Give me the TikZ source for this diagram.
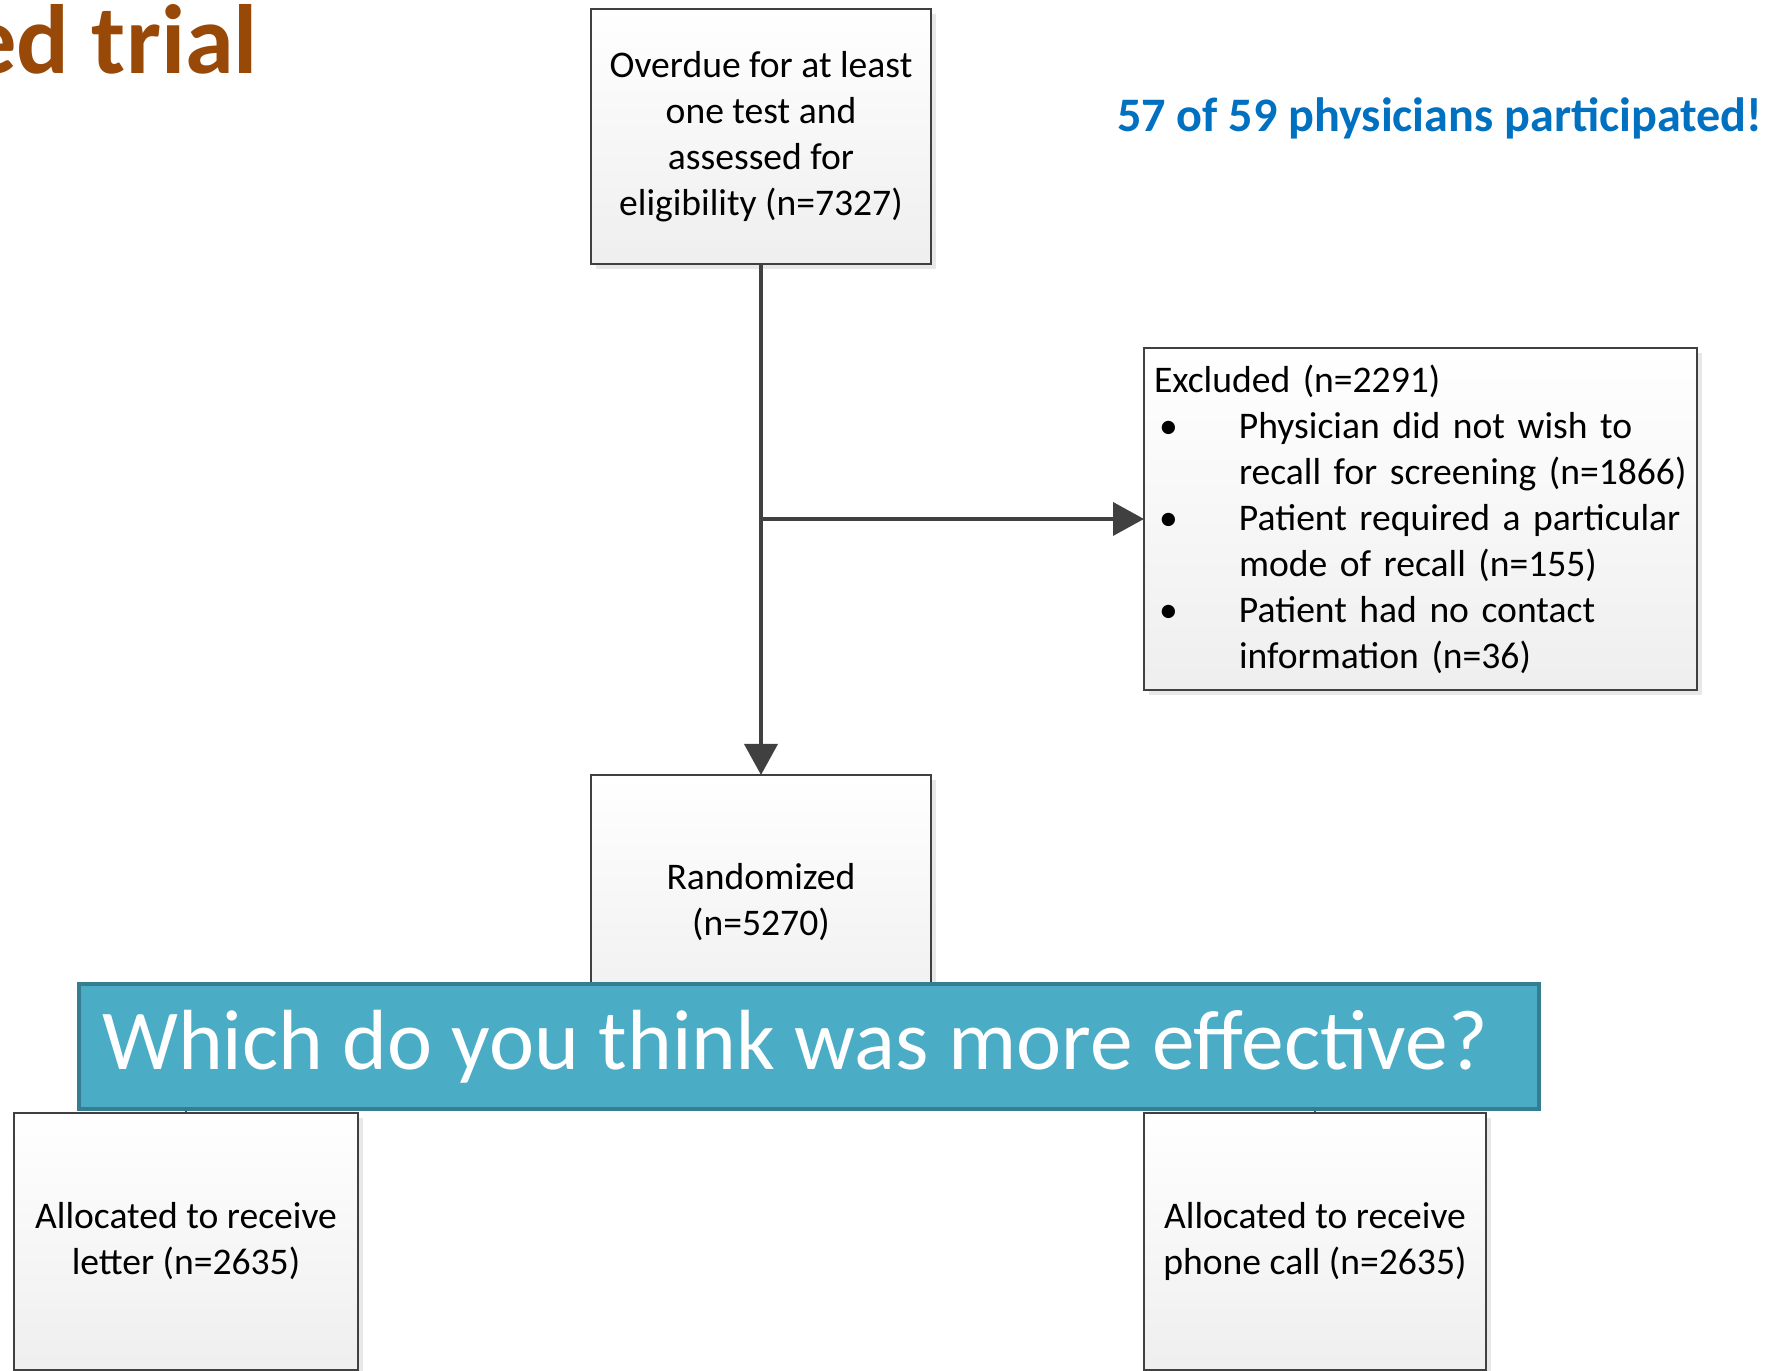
\documentclass[tikz,border=0pt]{standalone}
\usepackage{fontspec}
\setmainfont{Carlito}
\usetikzlibrary{calc}
\usetikzlibrary{positioning}
\usetikzlibrary{arrows.meta}
\usetikzlibrary{shadows}

\definecolor{titlebrown}{HTML}{984807}
\definecolor{noteblue}{HTML}{0070C0}
\definecolor{bannerfill}{HTML}{4BACC6}
\definecolor{bannerline}{HTML}{357D91}
\definecolor{linegray}{HTML}{404040}

\newcommand{\bulletline}[1]{\makebox[0.85cm][l]{\hspace{0.05cm}\textbullet}#1}
\newcommand{\restline}[1]{\hspace*{0.85cm}#1}

\begin{document}
\begin{tikzpicture}
  [
  % 線と文字の間の間隔を設定
  every node/.style={outer sep=0, inner sep=0},
  % 矢印の設定
  arrow/.style={-{Triangle[length=0.31cm, width=0.33cm]}, line width=1.1pt,
  draw=linegray},
  % 線
  link/.style={line width=1.1pt, draw=linegray},
  % ブロック
  block/.style={rectangle, draw=linegray, line width=0.8pt, align=center,
  minimum width=3.4cm, minimum height=2.55cm, top color=white,
  bottom color=gray!13,
  drop shadow={shadow xshift=0.05cm, shadow yshift=-0.05cm, opacity=0.18},
  font=\fontsize{10.7}{13.1}\selectfont},
  % 帯
  banner/.style={rectangle, draw=bannerline, line width=1.3pt,
  fill=bannerfill, text=white, minimum width=14.6cm, minimum height=1.25cm,
  font=\fontsize{24.3}{29}\selectfont}
  ]
  \useasboundingbox (0,0) rectangle (17.74,13.71);
  \node [block] (screen) at (7.61,12.345)
  {Overdue for at least\\one test and\\assessed for\\eligibility (n=7327)};
  \node [block, below=5.11 of screen] (rand) {Randomized\\(n=5270)};
  \node [block, minimum width=5.53cm, minimum height=3.42cm, inner xsep=0.1cm,
  text width=5.33cm, align=left] (excl) at (14.205,8.52)
  {Excluded (n=2291)\\
  \bulletline{Physician did not wish to}\\
  \restline{recall for screening (n=1866)}\\
  \bulletline{Patient required a particular}\\
  \restline{mode of recall (n=155)}\\
  \bulletline{Patient had no contact}\\
  \restline{information (n=36)}};
  \node [block, minimum width=3.44cm, minimum height=2.57cm] (letter)
  at (1.86,1.295) {Allocated to receive\\letter (n=2635)};
  \node [block, minimum width=3.42cm, minimum height=2.57cm] (phone)
  at (13.15,1.295) {Allocated to receive\\phone call (n=2635)};
  \draw[arrow] (screen) -- (rand);
  \coordinate (branch) at (screen |- excl.west);
  \draw[arrow] (branch) -- (excl);
  \draw[arrow] (rand.south) -- ++(0,-0.45) coordinate (split) -| (letter);
  \draw[arrow] (split) -| (phone);
  \draw[link] (letter.south) -- ++(0,-0.5) coordinate (letterout);
  \draw[link] (phone.south) -- ++(0,-0.5) coordinate (phoneout);
  \node [banner] (question) at (8.09,3.245)
  {\raisebox{-0.08cm}{\makebox[14.14cm][l]{Which do you think was more effective?}}};
  \node [anchor=base east, text=titlebrown,
  font=\bfseries\fontsize{28}{34}\selectfont] (title) at (2.58,12.97)
  {ed trial};
  \node [anchor=base west, text=noteblue,
  font=\bfseries\fontsize{13.7}{17}\selectfont] (note) at (11.17,12.39)
  {57 of 59 physicians participated!};
\end{tikzpicture}
\end{document}
